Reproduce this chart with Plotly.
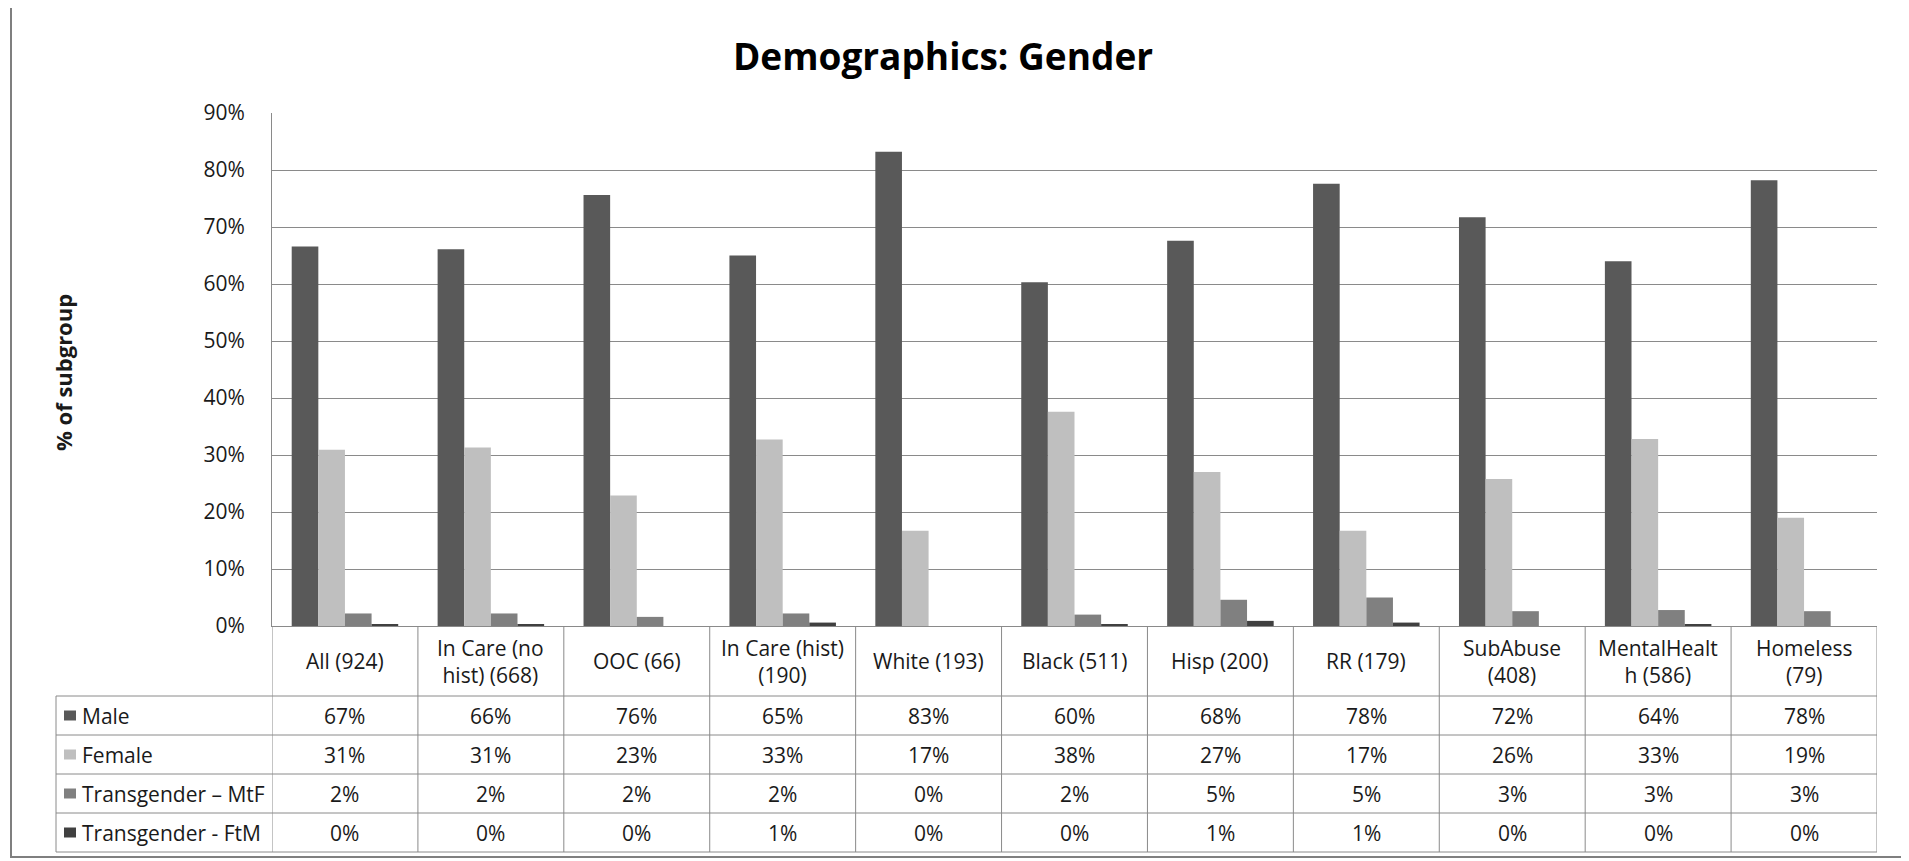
import plotly.graph_objects as go

# ---------------- data ----------------
categories = ["All (924)", "In Care (no hist) (668)", "OOC (66)", "In Care (hist) (190)",
              "White (193)", "Black (511)", "Hisp (200)", "RR (179)", "SubAbuse (408)",
              "MentalHealth (586)", "Homeless (79)"]
header_labels = ["All (924)", "In Care (no<br>hist) (668)", "OOC (66)", "In Care (hist)<br>(190)",
                 "White (193)", "Black (511)", "Hisp (200)", "RR (179)", "SubAbuse<br>(408)",
                 "MentalHealt<br>h (586)", "Homeless<br>(79)"]
series_names = ["Male", "Female", "Transgender \u2013 MtF", "Transgender - FtM"]
male = [66.6, 66.1, 75.6, 65.0, 83.2, 60.3, 67.6, 77.6, 71.7, 64.0, 78.2]
female = [30.9, 31.3, 22.9, 32.7, 16.7, 37.6, 27.0, 16.7, 25.8, 32.8, 19.0]
mtf = [2.2, 2.2, 1.6, 2.2, 0.0, 2.0, 4.6, 5.0, 2.6, 2.8, 2.6]
ftm = [0.3, 0.3, 0.0, 0.6, 0.0, 0.2, 0.9, 0.6, 0.0, 0.3, 0.0]
series_values = [male, female, mtf, ftm]
series_colors = ["#595959", "#BFBFBF", "#808080", "#404040"]
y_ticks = [0, 10, 20, 30, 40, 50, 60, 70, 80, 90]

# ---------------- layout geometry (page pixels) ----------------
W, H = 1909, 861
OFF = 8  # page body margin
FW, FH = W - OFF, H - OFF
PL, PR, PT, PB = 272, 1877, 113, 626  # plot area in page pixels


def xp(px):
    return (px - PL) / (PR - PL)


def yp(py):
    return (PB - py) / (PB - PT)


FONT = "Open Sans"
TXT = "#1a1a1a"
LINE = "#8a8a8a"
FS = 21

fig = go.Figure()
for name, vals, col in zip(series_names, series_values, series_colors):
    fig.add_trace(go.Bar(x=categories, y=vals, name=name, marker=dict(color=col, line=dict(width=0)),
                         showlegend=False))

shapes = []
annotations = []

# outer chart border
shapes.append(dict(type="rect", xref="paper", yref="paper", x0=xp(11), x1=xp(1903), y0=yp(857), y1=yp(7),
                   line=dict(color="#7f7f7f", width=2), layer="below"))

# data table: horizontal lines
row_edges = [696, 735, 774, 813, 852]
for ry in row_edges:
    shapes.append(dict(type="line", xref="paper", yref="paper", x0=xp(56), x1=xp(PR), y0=yp(ry), y1=yp(ry),
                       line=dict(color=LINE, width=1)))
# vertical column lines
for i in range(len(categories) + 1):
    shapes.append(dict(type="line", xref="x", yref="paper", x0=i - 0.5, x1=i - 0.5, y0=yp(PB), y1=yp(852),
                       line=dict(color=LINE, width=1)))
# legend column left edge
shapes.append(dict(type="line", xref="paper", yref="paper", x0=xp(56), x1=xp(56), y0=yp(696), y1=yp(852),
                   line=dict(color=LINE, width=1)))

# header labels
for cat, lab in zip(categories, header_labels):
    annotations.append(dict(x=cat, xref="x", y=yp(661), yref="paper", text=lab, showarrow=False,
                            font=dict(family=FONT, size=FS, color=TXT), xanchor="center",
                            yanchor="middle"))

# rows
for r, (name, vals, col) in enumerate(zip(series_names, series_values, series_colors)):
    top, bot = row_edges[r], row_edges[r + 1]
    cy = (top + bot) / 2
    shapes.append(dict(type="rect", xref="paper", yref="paper", x0=xp(64), x1=xp(76), y0=yp(cy + 5),
                       y1=yp(cy - 5), fillcolor=col, line=dict(width=0)))
    annotations.append(dict(x=xp(80), xref="paper", y=yp(cy), yref="paper", text=name, showarrow=False,
                            font=dict(family=FONT, size=FS, color=TXT), xanchor="left",
                            yanchor="middle"))
    for cat, v in zip(categories, vals):
        annotations.append(dict(x=cat, xref="x", y=yp(cy), yref="paper", text=f"{v:.0f}%", showarrow=False,
                                font=dict(family=FONT, size=FS, color=TXT), xanchor="center",
                                yanchor="middle"))

# y-axis title
annotations.append(dict(x=xp(63), xref="paper", y=yp(373), yref="paper", text="<b>% of subgroup</b>",
                        textangle=-90, showarrow=False, font=dict(family=FONT, size=22, color=TXT),
                        xanchor="center", yanchor="middle"))

fig.update_layout(
    width=FW, height=FH, autosize=False,
    margin=dict(l=PL - OFF, r=W - PR, t=PT - OFF, b=H - PB, pad=0),
    paper_bgcolor="white", plot_bgcolor="white",
    barmode="group", bargap=0.27, bargroupgap=0,
    title=dict(text="<b>Demographics: Gender</b>", x=(943 - OFF) / FW, xanchor="center",
               y=1 - (57 - OFF) / FH, yanchor="middle", font=dict(family=FONT, size=37, color="black")),
    xaxis=dict(range=[-0.5, len(categories) - 0.5], showticklabels=False, showgrid=False,
               showline=True, linecolor=LINE, linewidth=1, ticks="", zeroline=False, fixedrange=True),
    yaxis=dict(range=[0, 90], tickvals=y_ticks, ticktext=[f"{t}%" for t in y_ticks], showgrid=True,
               gridcolor=LINE, gridwidth=1, showline=True, linecolor=LINE, linewidth=1, zeroline=False,
               ticks="", ticklabelstandoff=22, tickfont=dict(family=FONT, size=FS, color=TXT)),
    shapes=shapes, annotations=annotations, showlegend=False,
)

fig.write_html("out.html")
